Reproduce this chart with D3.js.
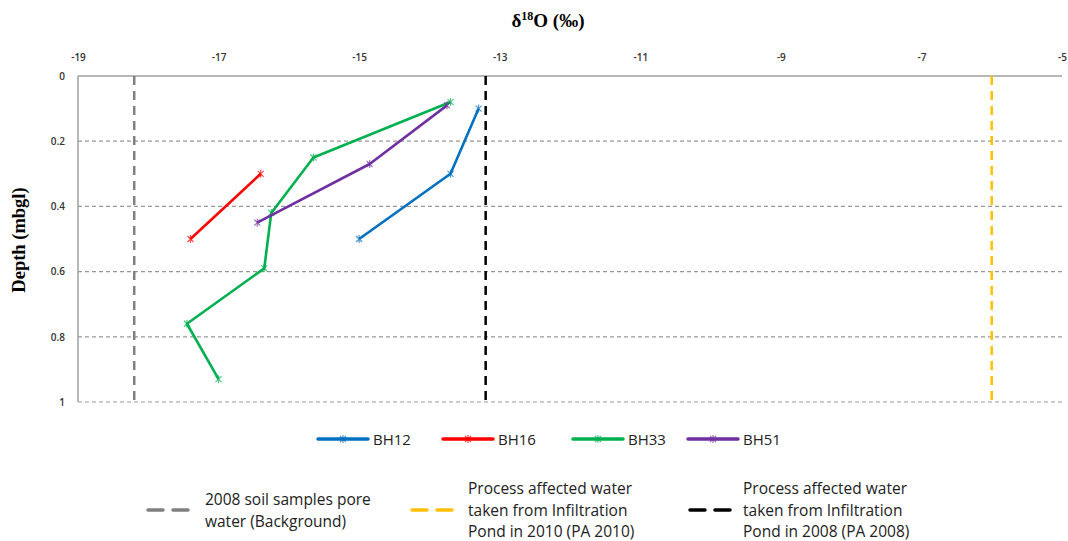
<!DOCTYPE html>
<html>
<head>
<meta charset="utf-8">
<script src="https://cdn.jsdelivr.net/npm/d3@7"></script>
<style>
  body { margin: 0; background: #fff; }
  svg { display: block; }
</style>
</head>
<body>
<div id="chart"></div>
<script>
// Data
const xTicks = [-19, -17, -15, -13, -11, -9, -7, -5];
const yTicks = [0, 0.2, 0.4, 0.6, 0.8, 1];

const bh12 = [[-13.3, 0.1], [-13.7, 0.3], [-15.0, 0.5]];
const bh16 = [[-16.4, 0.3], [-17.4, 0.5]];
const bh33 = [[-13.7, 0.08], [-15.65, 0.25], [-16.25, 0.42], [-16.35, 0.59], [-17.45, 0.76], [-17.0, 0.93]];
const bh51 = [[-13.75, 0.09], [-14.85, 0.27], [-16.45, 0.45]];

const seriesNames = ["BH12", "BH16", "BH33", "BH51"];
const seriesColors = ["#0070C0", "#FF0000", "#00B050", "#7030A0"];
const seriesData = [bh12, bh16, bh33, bh51];

const refNames = [
  ["2008 soil samples  pore", "water (Background)"],
  ["Process affected water", "taken from Infiltration", "Pond in 2010 (PA 2010)"],
  ["Process affected water", "taken from Infiltration", "Pond in 2008 (PA 2008)"]
];
const refValues = [-18.2, -6.0, -13.2];
const refColors = ["#808080", "#FFC000", "#000000"];

// Dimensions
const width = 1068, height = 541;
const plot = { left: 78, right: 1062, top: 76, bottom: 402 };

const svg = d3.select("#chart").append("svg")
  .attr("width", width).attr("height", height);

const xScale = d3.scaleLinear().domain([-19, -5]).range([plot.left, plot.right]);
const yScale = d3.scaleLinear().domain([0, 1]).range([plot.top, plot.bottom]);

// Grid lines
svg.append("g").selectAll("line")
  .data(yTicks.filter(d => d > 0))
  .join("line")
  .attr("x1", plot.left).attr("x2", plot.right)
  .attr("y1", d => yScale(d)).attr("y2", d => yScale(d))
  .attr("stroke", "#999").attr("stroke-width", 1.2)
  .attr("stroke-dasharray", "4,3");

// Axes lines
svg.append("line")
  .attr("x1", plot.left).attr("x2", plot.right)
  .attr("y1", yScale(0)).attr("y2", yScale(0))
  .attr("stroke", "#a0a0a0").attr("stroke-width", 1.5);
svg.append("line")
  .attr("x1", plot.left).attr("x2", plot.left)
  .attr("y1", yScale(0)).attr("y2", yScale(1))
  .attr("stroke", "#a0a0a0").attr("stroke-width", 1.5);

// Axis tick labels
const xAxis = d3.axisTop(xScale).tickValues(xTicks).tickSize(0).tickPadding(0)
  .tickFormat(d => String(d));
const xAxisG = svg.append("g").attr("transform", "translate(0,61)").call(xAxis);
xAxisG.select(".domain").remove();
xAxisG.selectAll("text")
  .attr("font-family", "Open Sans, sans-serif").attr("font-size", 10)
  .attr("font-weight", 600).attr("fill", "#333");

const yAxis = d3.axisLeft(yScale).tickValues(yTicks).tickSize(0).tickPadding(0)
  .tickFormat(d => String(d));
const yAxisG = svg.append("g").attr("transform", "translate(65,0)").call(yAxis);
yAxisG.select(".domain").remove();
yAxisG.selectAll("text")
  .attr("font-family", "Open Sans, sans-serif").attr("font-size", 10)
  .attr("font-weight", 600).attr("fill", "#333");

// Titles
const title = svg.append("text")
  .attr("x", 548).attr("y", 27)
  .attr("text-anchor", "middle")
  .attr("font-family", "Liberation Serif, serif")
  .attr("font-weight", "bold").attr("font-size", 19);
title.append("tspan").text("δ");
title.append("tspan").attr("font-size", 12).attr("dy", -7).text("18");
title.append("tspan").attr("dy", 7).text("O (‰)");

svg.append("text")
  .attr("transform", "translate(25,240) rotate(-90)")
  .attr("text-anchor", "middle")
  .attr("font-family", "Liberation Serif, serif")
  .attr("font-weight", "bold").attr("font-size", 18.5)
  .text("Depth (mbgl)");

// Reference vertical lines
svg.append("g").selectAll("line")
  .data(refValues)
  .join("line")
  .attr("x1", d => xScale(d)).attr("x2", d => xScale(d))
  .attr("y1", yScale(0)).attr("y2", yScale(1))
  .attr("stroke", (d, i) => refColors[i])
  .attr("stroke-width", 2.5)
  .attr("stroke-dasharray", "9,6");

// Series
const lineGen = d3.line().x(d => xScale(d[0])).y(d => yScale(d[1]));
const marker = "M-3,-3L3,3M-3,3L3,-3M0,-4L0,4";

seriesData.forEach((data, i) => {
  svg.append("path")
    .datum(data)
    .attr("d", lineGen)
    .attr("fill", "none")
    .attr("stroke", seriesColors[i])
    .attr("stroke-width", 2.6)
    .attr("stroke-linejoin", "round");
  svg.append("g").selectAll("path")
    .data(data)
    .join("path")
    .attr("transform", d => `translate(${xScale(d[0])},${yScale(d[1])})`)
    .attr("d", marker)
    .attr("stroke", seriesColors[i])
    .attr("stroke-opacity", 0.7)
    .attr("stroke-width", 1.2);
});

// Legend: series
const legendX = [318, 443, 573, 688];
seriesNames.forEach((name, i) => {
  const g = svg.append("g").attr("transform", `translate(${legendX[i]},439)`);
  g.append("line").attr("x1", 0).attr("x2", 50)
    .attr("stroke", seriesColors[i]).attr("stroke-width", 3.5)
    .attr("stroke-linecap", "round");
  g.append("path").attr("transform", "translate(25,0)").attr("d", marker)
    .attr("stroke", seriesColors[i]).attr("stroke-opacity", 0.7).attr("stroke-width", 1.2);
  g.append("text").attr("x", 55).attr("y", 5.5)
    .attr("font-family", "Open Sans, sans-serif").attr("font-size", 15)
    .attr("fill", "#222").text(name);
});

// Legend: reference lines
const refLegend = [
  { x: 148, tx: 205, y0: 500 },
  { x: 412, tx: 468, y0: 489 },
  { x: 690, tx: 743, y0: 489 }
];
refLegend.forEach((p, i) => {
  svg.append("line")
    .attr("x1", p.x).attr("x2", p.x + 47)
    .attr("y1", 510).attr("y2", 510)
    .attr("stroke", refColors[i]).attr("stroke-width", 3.5)
    .attr("stroke-dasharray", "15,10")
    .attr("stroke-linecap", "round");
  svg.append("text")
    .attr("font-family", "Open Sans, sans-serif").attr("font-size", 15.5)
    .attr("fill", "#222")
    .selectAll("tspan")
    .data(refNames[i])
    .join("tspan")
    .attr("x", p.tx)
    .attr("y", (d, j) => p.y0 + 5 + j * 21.5)
    .text(d => d);
});
</script>
</body>
</html>
